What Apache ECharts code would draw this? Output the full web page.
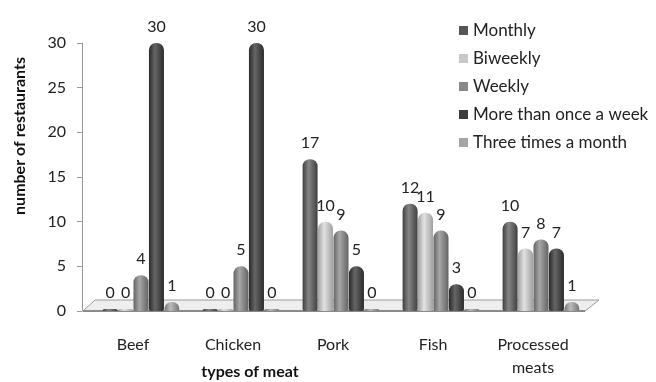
<!DOCTYPE html>
<html>
<head>
<meta charset="utf-8">
<script src="https://cdn.jsdelivr.net/npm/echarts@6/dist/echarts.min.js"></script>
<style>
  html, body { margin: 0; padding: 0; background: #fff; }
  #chart { width: 656px; height: 382px; }
</style>
</head>
<body>
<div id="chart"></div>
<script>
const categories = ['Beef', 'Chicken', 'Pork', 'Fish', 'Processed\nmeats'];
const seriesNames = ['Monthly', 'Biweekly', 'Weekly', 'More than once a week', 'Three times a month'];
const monthly = [0, 0, 17, 12, 10];
const biweekly = [0, 0, 10, 11, 7];
const weekly = [4, 5, 9, 9, 8];
const moreThanWeekly = [30, 30, 5, 3, 7];
const threeTimesMonth = [1, 0, 0, 0, 1];
const yTicks = [0, 5, 10, 15, 20, 25, 30];

const seriesData = [monthly, biweekly, weekly, moreThanWeekly, threeTimesMonth];
// cylinder shades: [edge, highlight]
const shades = [
  ['#404040', '#858585'],
  ['#a0a0a0', '#e2e2e2'],
  ['#646464', '#a6a6a6'],
  ['#2a2a2a', '#666666'],
  ['#757575', '#bcbcbc']
];
const legendColors = ['#555', '#c8c8c8', '#888', '#3c3c3c', '#a5a5a5'];

const font = 'Lato, "Open Sans", sans-serif';

function cyl(c) {
  return new echarts.graphic.LinearGradient(0, 0, 1, 0, [
    { offset: 0, color: c[0] },
    { offset: 0.4, color: c[1] },
    { offset: 1, color: c[0] }
  ]);
}

let chart = echarts.init(document.getElementById('chart'));

let series = seriesData.map(function (d, i) {
  return {
    name: seriesNames[i],
    type: 'bar',
    data: d,
    barWidth: 15,
    barGap: '3%',
    barMinHeight: 2,
    color: legendColors[i],
    itemStyle: { color: cyl(shades[i]), borderRadius: [7, 7, 2, 2] },
    label: {
      show: true,
      position: 'top',
      distance: 8,
      color: '#222',
      fontSize: 16,
      fontFamily: font
    },
    z: 3
  };
});

let option = {
  animation: false,
  textStyle: { fontFamily: font },
  grid: { left: 91, right: 65, top: 43, bottom: 71 },
  legend: {
    orient: 'vertical',
    left: 454,
    top: 17,
    itemWidth: 9,
    itemHeight: 9,
    itemGap: 11,
    icon: 'rect',
    textStyle: { fontSize: 17, color: '#222', fontFamily: font },
    data: seriesNames.map(function (n, i) {
      return { name: n, itemStyle: { color: legendColors[i] } };
    })
  },
  xAxis: {
    type: 'category',
    data: categories,
    axisLine: { show: false },
    axisTick: { show: false },
    axisLabel: {
      fontSize: 16,
      color: '#222',
      margin: 22,
      lineHeight: 23,
      padding: [0, 16, 0, 0],
      fontFamily: font
    }
  },
  yAxis: {
    type: 'value',
    min: 0,
    max: 30,
    interval: 5,
    offset: 9,
    splitLine: { show: false },
    axisLine: { show: true, lineStyle: { color: '#999' } },
    axisTick: { show: true, length: 5, lineStyle: { color: '#999' } },
    axisLabel: {
      fontSize: 16,
      color: '#222',
      margin: 16,
      fontFamily: font,
      formatter: function (v) { return yTicks.indexOf(v) >= 0 ? String(v) : ''; }
    }
  },
  series: series
};

chart.setOption(option);

// floor slab under the bars, placed from the axis scale
let y0 = chart.convertToPixel({ yAxisIndex: 0 }, 0);
let pL = chart.convertToPixel({ xAxisIndex: 0 }, 0) - 58;
let pR = chart.convertToPixel({ xAxisIndex: 0 }, categories.length - 1) + 44;
chart.setOption({
  graphic: [
    {
      id: 'floor',
      type: 'polygon',
      z: 1,
      shape: { points: [[pL, y0], [pR, y0], [pR + 14, y0 - 11], [pL + 12, y0 - 11]] },
      style: { fill: '#eeeeee', stroke: '#9a9a9a', lineWidth: 1 }
    },
    {
      id: 'floorEdge',
      type: 'line',
      z: 1,
      shape: { x1: pL, y1: y0, x2: pR, y2: y0 },
      style: { stroke: '#8a8a8a', lineWidth: 2 }
    },
    {
      id: 'yName',
      type: 'text',
      x: 20,
      y: 136,
      rotation: Math.PI / 2,
      style: {
        text: 'number of restaurants',
        fontSize: 16,
        fontWeight: 'bold',
        fill: '#111',
        fontFamily: font,
        align: 'center',
        verticalAlign: 'middle'
      }
    },
    {
      id: 'xName',
      type: 'text',
      x: 250,
      y: 372,
      style: {
        text: 'types of meat',
        fontSize: 16,
        fontWeight: 'bold',
        fill: '#111',
        fontFamily: font,
        align: 'center',
        verticalAlign: 'middle'
      }
    }
  ]
});
</script>
</body>
</html>
